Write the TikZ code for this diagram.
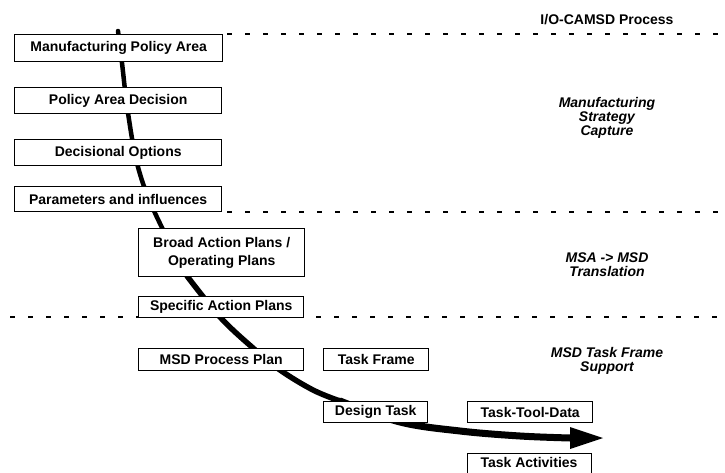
\documentclass[tikz,border=0pt]{standalone}
\usepackage{fontspec}
\setmainfont{Liberation Sans}
\usetikzlibrary{arrows.meta}
\begin{document}
\begin{tikzpicture}[x=1pt,y=-1pt,
  box/.style={draw, line width=1.4pt, fill=white, inner sep=0pt, align=center,
    anchor=north west, font=\fontsize{14}{18}\selectfont\bfseries},
  lbl/.style={align=center, font=\fontsize{14}{14}\selectfont\bfseries\itshape},
  sep/.style={line width=1.7pt, dash pattern=on 5pt off 13pt},
  flow/.style={line cap=round, line join=round}]
\useasboundingbox (0,0) rectangle (725,473);

% flow curve (drawn first, boxes on top)
\coordinate (p0) at (118,31);
\coordinate (p1) at (122,63);
\coordinate (p2) at (128,113);
\coordinate (p3) at (138,167);
\coordinate (p4) at (155,213);
\coordinate (p5) at (187,276);
\coordinate (p6) at (220,317);
\coordinate (p7) at (253,348);
\coordinate (p8) at (280,370);
\coordinate (p9) at (313,390);
\coordinate (p10) at (340,401);
\coordinate (p11) at (400,422);
\coordinate (p12) at (460,431);
\coordinate (p13) at (520,436);
\coordinate (p14) at (570,438);
\coordinate (tip) at (603,438);

\draw[flow, line width=4.5pt] plot[smooth, tension=0.6] coordinates {(p0) (p1) (p2) (p3) (p4) (p5)};
\draw[flow, line width=5.5pt] plot[smooth, tension=0.6] coordinates {(p5) (p6) (p7) (p8) (p9) (p10)};
\draw[flow, line width=7pt] plot[smooth, tension=0.6] coordinates {(p10) (p11) (p12) (p13) (p14)};
\fill ([yshift=-11pt]p14) -- (tip) -- ([yshift=11pt]p14) -- cycle;

% boxes
\node[box, minimum width=208pt, minimum height=27pt] (mpa) at (14,34) {Manufacturing Policy Area};
\node[box, minimum width=207pt, minimum height=26pt] (pad) at (14,87) {Policy Area Decision};
\node[box, minimum width=207pt, minimum height=26pt] (dop) at (14,139) {Decisional Options};
\node[box, minimum width=207pt, minimum height=25pt] (par) at (14,186) {Parameters and influences};
\node[box, minimum width=166pt, minimum height=48pt] (bap) at (138,228) {Broad Action Plans /\\Operating Plans};

% separators
\draw[sep] (227,34) -- (725,34);
\draw[sep] (227,212) -- (725,212);
\draw[sep] (10,317) -- (725,317);

\node[box, minimum width=165pt, minimum height=21pt] (sap) at (138,296) {Specific Action Plans};
\node[box, minimum width=165pt, minimum height=22pt] (msd) at (138,348) {MSD Process Plan};
\node[box, minimum width=105pt, minimum height=22pt] (tfr) at (323,348) {Task Frame};
\node[box, minimum width=104pt, minimum height=21pt] (dtk) at (323,401) {Design Task};
\node[box, minimum width=125pt, minimum height=21pt] (ttd) at (467,401) {Task-Tool-Data};
\node[box, minimum width=124pt, minimum height=26pt] (tac) at (467,453) {};
\node[font=\fontsize{14}{14}\selectfont\bfseries, inner sep=0pt] (tact) at (529,462) {Task Activities};

% right-hand labels
\node[font=\fontsize{14}{14}\selectfont\bfseries] (proc) at (607,20) {I/O-CAMSD Process};
\node[lbl] (msc) at (607,118) {Manufacturing\\Strategy\\Capture};
\node[lbl] (trn) at (607,265) {MSA -> MSD\\Translation};
\node[lbl] (tfs) at (607,361) {MSD Task Frame\\Support};
\end{tikzpicture}
\end{document}
